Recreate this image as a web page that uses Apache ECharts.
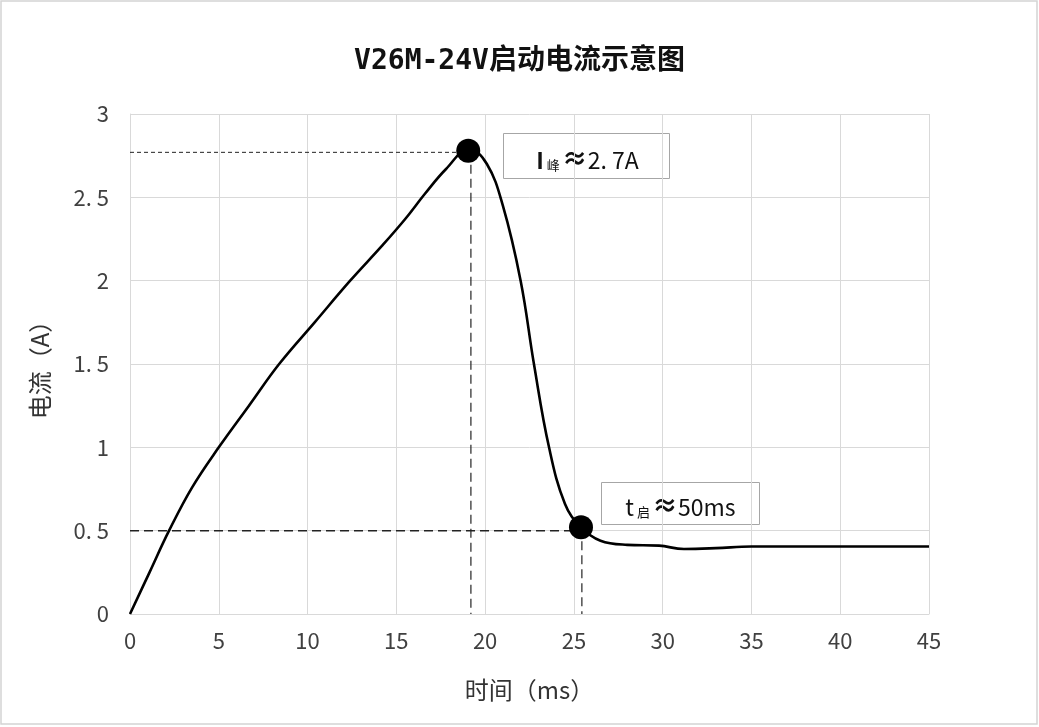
<!DOCTYPE html>
<html>
<head>
<meta charset="utf-8">
<script src="https://cdn.jsdelivr.net/npm/echarts@6/dist/echarts.min.js"></script>
<style>html,body{margin:0;padding:0;background:#fff}#c{width:1039px;height:727px}</style>
</head>
<body>
<div id="c"></div>
<script>
// ---- data ----
var timeMs   = [0, 1.1, 2.2, 3.5, 5, 6.7, 8.4, 10.4, 12.4, 14.2, 15.5, 16.6, 17.8, 19.1, 20.1, 21.0, 22.0, 22.75, 23.6, 24.5, 25.4, 26.5, 28.0, 29.8, 31.2, 33.0, 35.0, 40.0, 45.0];
var currentA = [0, 0.25, 0.5, 0.76, 1.0, 1.25, 1.5, 1.75, 2.0, 2.21, 2.37, 2.52, 2.67, 2.79, 2.70, 2.45, 2.0, 1.5, 1.0, 0.66, 0.52, 0.44, 0.415, 0.41, 0.39, 0.395, 0.405, 0.405, 0.405];
var peakPoint  = [19.05, 2.78];   // I峰 marker
var startPoint = [25.4, 0.52];    // t启 marker
var peakGuideY = 2.77, peakGuideX = 19.2;
var startGuideY = 0.5, startGuideX = 25.45;
var xTicks = {min: 0, max: 45, interval: 5};
var yTicks = {min: 0, max: 3, interval: 0.5};
var titleText = 'V26M-24V启动电流示意图';
var xName = '时间（ms）';
var yName = '电流（A）';
var peakLabel = ['I', '峰', '≈', '2. 7A'];
var startLabel = ['t', '启', '≈', '50ms'];

var curve = timeMs.map(function (t, i) { return [t, currentA[i]]; });
var mono = '"DejaVu Sans Mono", "Noto Sans CJK SC", monospace';
var cjk = '"Noto Sans CJK SC", sans-serif';

var chart = echarts.init(document.getElementById('c'), null, {renderer: 'canvas'});
function guide(data, dash, width) {
  return {
    type: 'line', data: data, symbol: 'none', silent: true, z: 1,
    lineStyle: {color: '#222', width: width, type: dash}
  };
}
function richLabel(parts, firstKey) {
  return '{' + firstKey + '|' + parts[0] + '}{b|' + parts[1] + '}{c|' + parts[2] + '}{d|' + parts[3] + '}';
}
var richStyles = {
  a: {fontFamily: cjk, fontSize: 23, fontWeight: 'bold', fill: '#111', lineHeight: 30, verticalAlign: 'bottom'},
  t: {fontFamily: cjk, fontSize: 23, fill: '#111', lineHeight: 30, verticalAlign: 'bottom'},
  b: {fontFamily: cjk, fontSize: 13, fill: '#111', lineHeight: 24, verticalAlign: 'bottom', padding: [0, 2, 0, 3]},
  c: {fontFamily: cjk, fontSize: 26, fontWeight: 'bold', fill: '#111', lineHeight: 30, verticalAlign: 'bottom'},
  d: {fontFamily: cjk, fontSize: 23, fill: '#111', lineHeight: 30, verticalAlign: 'bottom'}
};
chart.setOption({
  backgroundColor: '#fff',
  animation: false,
  title: {
    text: titleText, left: 'center', top: 43,
    textStyle: {fontFamily: mono, fontSize: 28, fontWeight: 'bold', color: '#111'}
  },
  grid: {left: 130, right: 110, top: 114, bottom: 113},
  xAxis: {
    type: 'value', min: xTicks.min, max: xTicks.max, interval: xTicks.interval,
    name: xName, nameLocation: 'middle', nameGap: 64,
    nameTextStyle: {fontFamily: cjk, fontSize: 24, color: '#333'},
    axisLine: {lineStyle: {color: '#d9d9d9', width: 1}},
    axisTick: {show: false},
    axisLabel: {fontFamily: cjk, fontSize: 22, color: '#404040', margin: 16},
    splitLine: {lineStyle: {color: '#d9d9d9', width: 1}}
  },
  yAxis: {
    type: 'value', min: yTicks.min, max: yTicks.max, interval: yTicks.interval,
    name: yName, nameLocation: 'middle', nameGap: 78, nameRotate: 90,
    nameTextStyle: {fontFamily: cjk, fontSize: 24, color: '#333'},
    axisLine: {show: true, lineStyle: {color: '#d9d9d9', width: 1}},
    axisTick: {show: false},
    axisLabel: {fontFamily: cjk, fontSize: 22, color: '#404040', margin: 21,
      formatter: function (v) { return String(v).replace('.', '. '); }},
    splitLine: {lineStyle: {color: '#d9d9d9', width: 1}}
  },
  series: [
    guide([[0, peakGuideY], [peakPoint[0], peakGuideY]], [4, 3], 1),
    guide([[peakGuideX, peakPoint[1]], [peakGuideX, 0]], [9, 5], 1.2),
    guide([[0, startGuideY], [startPoint[0], startGuideY]], [9, 5], 1.5),
    guide([[startGuideX, startPoint[1]], [startGuideX, 0]], [9, 5], 1.2),
    {
      type: 'line', data: curve, smooth: 0.4, symbol: 'none', z: 3,
      lineStyle: {color: '#000', width: 2.6}
    },
    {
      type: 'scatter', data: [peakPoint, startPoint], symbol: 'circle',
      symbolSize: 24, z: 4, itemStyle: {color: '#000', opacity: 1}
    }
  ],
  graphic: [
    {type: 'rect', shape: {x: 1, y: 1, width: 1036, height: 723}, z: -10,
     style: {fill: 'none', stroke: '#d4d4d4', lineWidth: 1.5}, silent: true},
    {type: 'group', left: 503, top: 133, z: 10, children: [
      {type: 'rect', shape: {x: 0, y: 0, width: 166, height: 45},
       style: {fill: '#fff', stroke: '#a6a6a6', lineWidth: 1}},
      {type: 'text', x: 84, y: 23, style: {
        text: richLabel(peakLabel, 'a'), align: 'center', verticalAlign: 'middle', rich: richStyles
      }}
    ]},
    {type: 'group', left: 601, top: 482, z: 10, children: [
      {type: 'rect', shape: {x: 0, y: 0, width: 158, height: 42},
       style: {fill: '#fff', stroke: '#a6a6a6', lineWidth: 1}},
      {type: 'text', x: 79, y: 21, style: {
        text: richLabel(startLabel, 't'), align: 'center', verticalAlign: 'middle', rich: richStyles
      }}
    ]}
  ]
});
</script>
</body>
</html>
